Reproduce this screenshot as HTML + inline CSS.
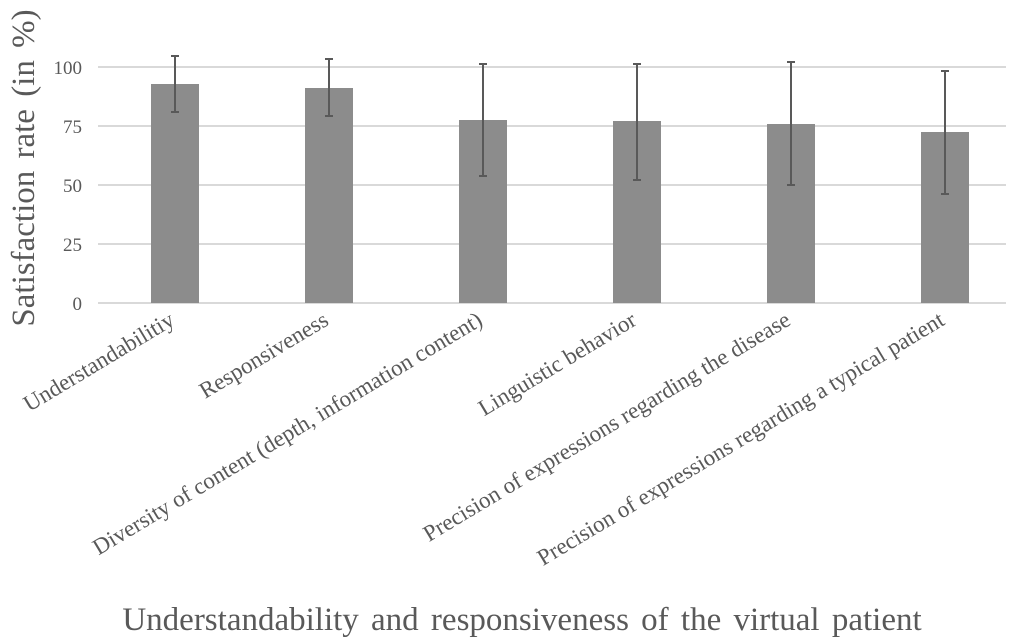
<!DOCTYPE html>
<html><head><style>body{margin:0;background:#fff}svg{display:block}</style></head><body>
<svg width="1024" height="643" viewBox="0 0 1024 643" font-family="Liberation Serif, serif" fill="#595959">
<g stroke="#d9d9d9" stroke-width="2">
<line x1="98" x2="1006" y1="67" y2="67"/><line x1="98" x2="1006" y1="126" y2="126"/>
<line x1="98" x2="1006" y1="185" y2="185"/><line x1="98" x2="1006" y1="244" y2="244"/>
<line x1="98" x2="1006" y1="303" y2="303"/></g>
<g font-size="19" text-anchor="end"><text x="82" y="74">100</text><text x="82" y="133">75</text><text x="82" y="192">50</text><text x="82" y="251">25</text><text x="82" y="310">0</text></g>
<g fill="#8c8c8c">
<rect x="151" y="84" width="48" height="219"/><rect x="305" y="88" width="48" height="215"/>
<rect x="459" y="120" width="48" height="183"/><rect x="613" y="121" width="48" height="182"/>
<rect x="767" y="124" width="48" height="179"/><rect x="921" y="132" width="48" height="171"/></g>
<g stroke="#595959" stroke-width="2">
<path d="M175 56V112M171 56h8M171 112h8"/>
<path d="M329 59V116M325 59h8M325 116h8"/>
<path d="M483 64V176M479 64h8M479 176h8"/>
<path d="M637 64V180M633 64h8M633 180h8"/>
<path d="M791 62V185M787 62h8M787 185h8"/>
<path d="M945 71V194M941 71h8M941 194h8"/></g>
<g font-size="23" text-anchor="end">
<text transform="translate(176,324) rotate(-31)">Understandabilitiy</text>
<text transform="translate(330,324) rotate(-31)">Responsiveness</text>
<text transform="translate(484,324) rotate(-31)">Diversity of content (depth, information content)</text>
<text transform="translate(638,324) rotate(-31)">Linguistic behavior</text>
<text transform="translate(792,324) rotate(-31)">Precision of expressions regarding the disease</text>
<text transform="translate(946,324) rotate(-31)">Precision of expressions regarding a typical patient</text>
</g>
<text transform="translate(34,168) rotate(-90)" font-size="33" text-anchor="middle" word-spacing="4">Satisfaction rate (in %)</text>
<text x="522" y="630" font-size="33" text-anchor="middle" word-spacing="4">Understandability and responsiveness of the virtual patient</text>
</svg>
</body></html>
